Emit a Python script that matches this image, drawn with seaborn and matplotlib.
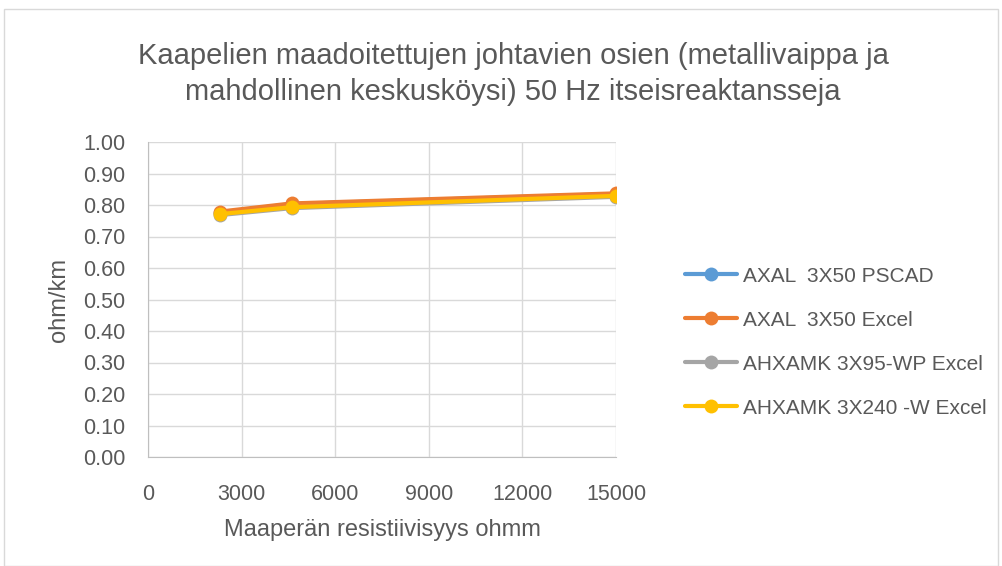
import matplotlib
matplotlib.use("Agg")
import matplotlib.pyplot as plt
import matplotlib.patches as mpatches
import pandas as pd
import seaborn as sns

resistivity = [2300, 4600, 15000]
axal_pscad = [0.776, 0.803, 0.835]
axal_excel = [0.779, 0.805, 0.837]
ahxamk95_excel = [0.768, 0.790, 0.826]
ahxamk240_excel = [0.771, 0.793, 0.829]

series_names = ["AXAL  3X50 PSCAD", "AXAL  3X50 Excel",
                "AHXAMK 3X95-WP Excel", "AHXAMK 3X240 -W Excel"]
series_colors = ["#5b9bd5", "#ed7d31", "#a5a5a5", "#ffc000"]

x_ticks = [0, 3000, 6000, 9000, 12000, 15000]
y_ticks = [0.0, 0.1, 0.2, 0.3, 0.4, 0.5, 0.6, 0.7, 0.8, 0.9, 1.0]

title = "Kaapelien maadoitettujen johtavien osien (metallivaippa ja\nmahdollinen keskusköysi) 50 Hz itseisreaktansseja"
x_label = "Maaperän resistiivisyys ohmm"
y_label = "ohm/km"

rows = []
for name, vals in zip(series_names, [axal_pscad, axal_excel, ahxamk95_excel, ahxamk240_excel]):
    for x, v in zip(resistivity, vals):
        rows.append({"x": x, "y": v, "series": name})
df = pd.DataFrame(rows)

sns.set_style("white")
plt.rcParams["font.family"] = ["Liberation Sans", "DejaVu Sans"]
text_col = "#595959"

fig = plt.figure(figsize=(10.02, 5.66), dpi=100)
ax = fig.add_axes([148 / 1002, 1 - 457 / 566, (616 - 148) / 1002, (457 - 142) / 566])

sns.lineplot(data=df, x="x", y="y", hue="series", hue_order=series_names,
             palette=series_colors, marker="o", markersize=10, markeredgewidth=0,
             linewidth=3, ax=ax, legend=True)

ax.set_xlim(0, 15000)
ax.set_ylim(0, 1.0)
ax.set_xticks(x_ticks)
ax.set_yticks(y_ticks)
ax.set_yticklabels([f"{t:.2f}" for t in y_ticks])
ax.grid(True, color="#d9d9d9", linewidth=1)
ax.set_axisbelow(True)
for s in ["top", "right"]:
    ax.spines[s].set_visible(False)
ax.spines["left"].set_color("#bfbfbf")
ax.spines["bottom"].set_color("#bfbfbf")
ax.tick_params(axis="both", length=0, labelsize=15.5, labelcolor=text_col)
ax.tick_params(axis="y", pad=16.5)
ax.tick_params(axis="x", pad=19.5)
ax.set_xlabel(x_label, fontsize=17, color=text_col, labelpad=10)
ax.set_ylabel(y_label, fontsize=17, color=text_col, labelpad=9)

fig.text(0.512, 1 - 74 / 566, title, ha="center", va="center", fontsize=21,
         color=text_col, linespacing=1.4)

handles, labels = ax.get_legend_handles_labels()
leg = ax.legend(handles, labels, loc="center left", bbox_to_anchor=(685 / 1002, 1 - 342 / 566),
                bbox_transform=fig.transFigure, frameon=False, fontsize=15,
                labelspacing=1.2, handlelength=2.5, handletextpad=0.3,
                borderpad=0, borderaxespad=0, labelcolor=text_col)

fig.patches.append(mpatches.Rectangle((4 / 1002, 0), 994 / 1002, 1 - 9 / 566,
                                      transform=fig.transFigure, fill=False,
                                      edgecolor="#d9d9d9", linewidth=1))

fig.savefig("out.png", dpi=100)
